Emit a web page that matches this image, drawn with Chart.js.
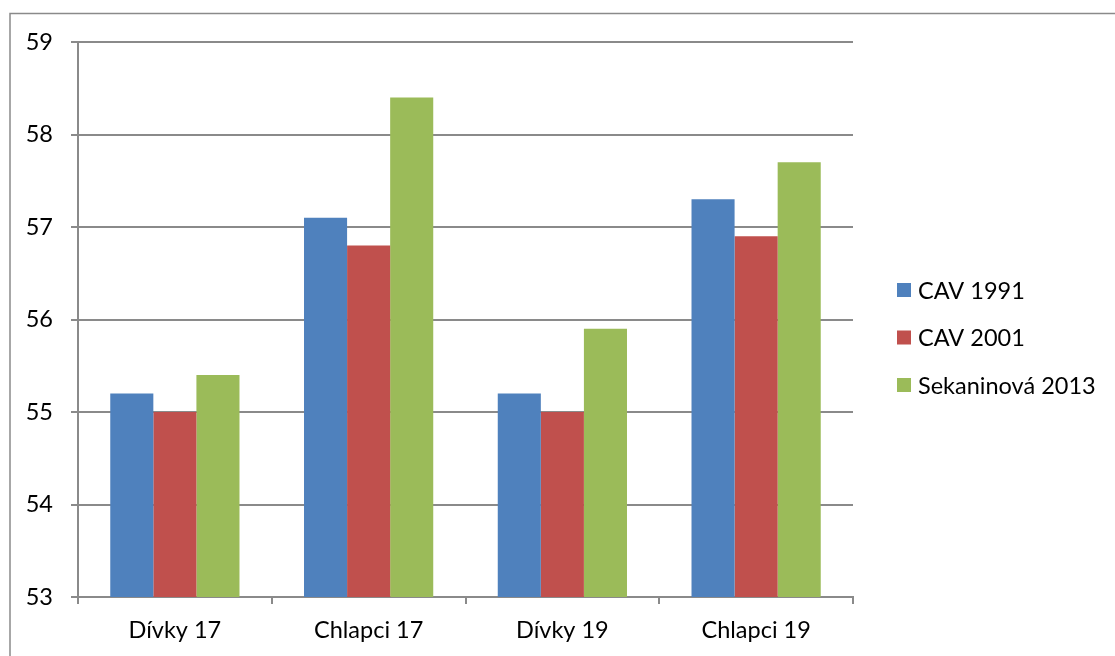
<!DOCTYPE html>
<html>
<head>
<meta charset="utf-8">
<script src="https://cdn.jsdelivr.net/npm/chart.js@4/dist/chart.umd.min.js"></script>
<style>
  html, body { margin: 0; padding: 0; background: #fff; }
  canvas { display: block; }
</style>
</head>
<body>
<canvas id="c" width="1115" height="656"></canvas>
<script>
// Categories and series
const categories = ['Dívky 17', 'Chlapci 17', 'Dívky 19', 'Chlapci 19'];
const cav1991 = [55.2, 57.1, 55.2, 57.3];
const cav2001 = [55.0, 56.8, 55.0, 56.9];
const sekaninova2013 = [55.4, 58.4, 55.9, 57.7];
const seriesNames = ['CAV 1991', 'CAV 2001', 'Sekaninová 2013'];
const yMin = 53, yMax = 59, yStep = 1;

const colors = ['#4F81BD', '#C0504D', '#9BBB59'];
const gridColor = '#8a8a8a';
const FONT = 'Lato, "Open Sans", sans-serif';
const fontSpec = { family: FONT, size: 23.5 };

// Outer frame around the whole figure
const framePlugin = {
  id: 'frame',
  beforeDraw(chart) {
    const ctx = chart.ctx;
    ctx.save();
    ctx.fillStyle = '#fff';
    ctx.fillRect(0, 0, chart.width, chart.height);
    ctx.strokeStyle = gridColor;
    ctx.lineWidth = 1.5;
    ctx.strokeRect(10, 13.5, chart.width + 20, chart.height + 20);
    ctx.restore();
  }
};

// Legend on the right, drawn from the dataset list
const sideLegend = {
  id: 'sideLegend',
  afterDraw(chart) {
    const ctx = chart.ctx;
    const x0 = 897, y0 = 290, step = 47.5, box = 14;
    ctx.save();
    ctx.font = `${fontSpec.size}px ${FONT}`;
    ctx.textBaseline = 'middle';
    ctx.textAlign = 'left';
    chart.data.datasets.forEach((ds, i) => {
      const yc = y0 + i * step;
      ctx.fillStyle = ds.backgroundColor;
      ctx.fillRect(x0, yc - box / 2, box, box);
      ctx.fillStyle = '#000';
      ctx.fillText(ds.label, x0 + 21, yc + 1);
    });
    ctx.restore();
  }
};

new Chart(document.getElementById('c'), {
  type: 'bar',
  data: {
    labels: categories,
    datasets: [
      { label: seriesNames[0], data: cav1991, backgroundColor: colors[0] },
      { label: seriesNames[1], data: cav2001, backgroundColor: colors[1] },
      { label: seriesNames[2], data: sekaninova2013, backgroundColor: colors[2] }
    ]
  },
  options: {
    responsive: false,
    devicePixelRatio: 1,
    animation: false,
    layout: { padding: { top: 42, right: 262, left: 0, bottom: 0 } },
    datasets: { bar: { categoryPercentage: 0.667, barPercentage: 1, borderWidth: 0 } },
    plugins: {
      legend: { display: false },
      tooltip: { enabled: false }
    },
    scales: {
      x: {
        grid: { offset: true, drawOnChartArea: false, color: gridColor, lineWidth: 2, tickLength: 7 },
        border: { color: gridColor, width: 2 },
        ticks: { color: '#000', font: fontSpec, padding: 12, maxRotation: 0 },
        afterFit(scale) { scale.height = 59; }
      },
      y: {
        min: yMin, max: yMax,
        grid: { color: gridColor, lineWidth: 2, tickLength: 7 },
        border: { color: gridColor, width: 2 },
        ticks: { stepSize: yStep, color: '#000', font: fontSpec, padding: 18 },
        afterFit(scale) { scale.width = 78; }
      }
    }
  },
  plugins: [framePlugin, sideLegend]
});
</script>
</body>
</html>
